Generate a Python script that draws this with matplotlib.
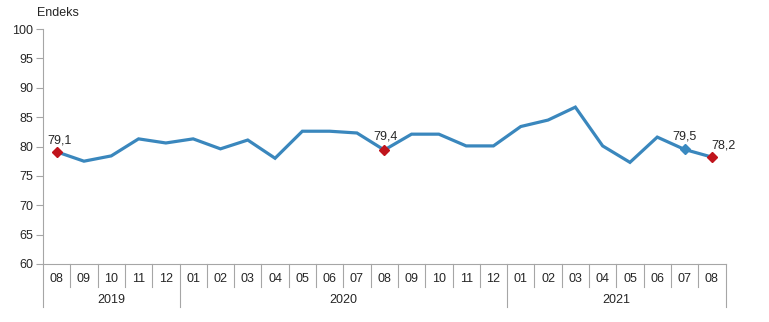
import matplotlib
matplotlib.use("Agg")
import matplotlib.pyplot as plt
import matplotlib.transforms as mtransforms

plt.rcParams["font.family"] = ["Liberation Sans", "DejaVu Sans"]

# Monthly index, 2019-08 .. 2021-08
months = ["08", "09", "10", "11", "12",
          "01", "02", "03", "04", "05", "06", "07", "08", "09", "10", "11", "12",
          "01", "02", "03", "04", "05", "06", "07", "08"]
values = [79.1, 77.5, 78.4, 81.3, 80.6,
          81.3, 79.6, 81.1, 78.0, 82.6, 82.6, 82.3, 79.4, 82.1, 82.1, 80.1, 80.1,
          83.4, 84.5, 86.7, 80.1, 77.3, 81.6, 79.5, 78.2]
years = ["2019", "2020", "2021"]
year_spans = [(0, 4), (5, 16), (17, 24)]

# highlighted points: index, label, marker colour, text offset (pixels)
highlights = [
    (0, "79,1", "#C0141C", (3, 11)),
    (12, "79,4", "#C0141C", (1, 14)),
    (23, "79,5", "#3A89C0", (0, 13)),
    (24, "78,2", "#C0141C", (12, 12)),
]

LINE = "#3A87BD"
GRID = "#A6A6A6"
TEXT = "#262626"

fig = plt.figure(figsize=(7.69, 3.22), dpi=100)
ax = fig.add_axes([43 / 769, 58 / 322, 682.5 / 769, 235 / 322])

x = list(range(len(values)))
ax.plot(x, values, color=LINE, lw=2.3, solid_joinstyle="miter", zorder=3)

for i, label, color, (dx, dy) in highlights:
    ax.plot(x[i], values[i], marker="D", ms=5, color=color, mec=color, zorder=4)
    ax.annotate(label, (x[i], values[i]), xytext=(dx, dy), textcoords="offset pixels",
                ha="center", va="center", fontsize=9, color=TEXT)

ax.set_xlim(-0.5, len(values) - 0.5)
ax.set_ylim(60, 100)
ax.set_yticks(range(60, 101, 5))
ax.tick_params(axis="y", length=5, color=GRID, labelsize=9, labelcolor=TEXT, pad=2)
ax.set_xticks([])

for side in ("top", "right"):
    ax.spines[side].set_visible(False)
for side in ("left", "bottom"):
    ax.spines[side].set_color(GRID)
    ax.spines[side].set_linewidth(0.8)

ax.text(-0.0095, 1.07, "Endeks", transform=ax.transAxes, fontsize=9, color=TEXT,
        ha="left", va="center")

# category table below the axis
trans = mtransforms.blended_transform_factory(ax.transData, ax.transAxes)
month_bottom = -0.098
year_bottom = -0.183
year_edges = {s - 0.5 for s, _ in year_spans} | {e + 0.5 for _, e in year_spans}
for k in range(len(values) + 1):
    xe = k - 0.5
    bottom = year_bottom if xe in year_edges else month_bottom
    ax.plot([xe, xe], [0, bottom], transform=trans, color=GRID, lw=0.8, clip_on=False)

for i, m in enumerate(months):
    ax.text(i, -0.064, m, transform=trans, ha="center", va="center", fontsize=9, color=TEXT)

for yr, (s, e) in zip(years, year_spans):
    ax.text((s + e) / 2, -0.153, yr, transform=trans, ha="center", va="center",
            fontsize=9, color=TEXT)

fig.savefig("out.png", dpi=100)
